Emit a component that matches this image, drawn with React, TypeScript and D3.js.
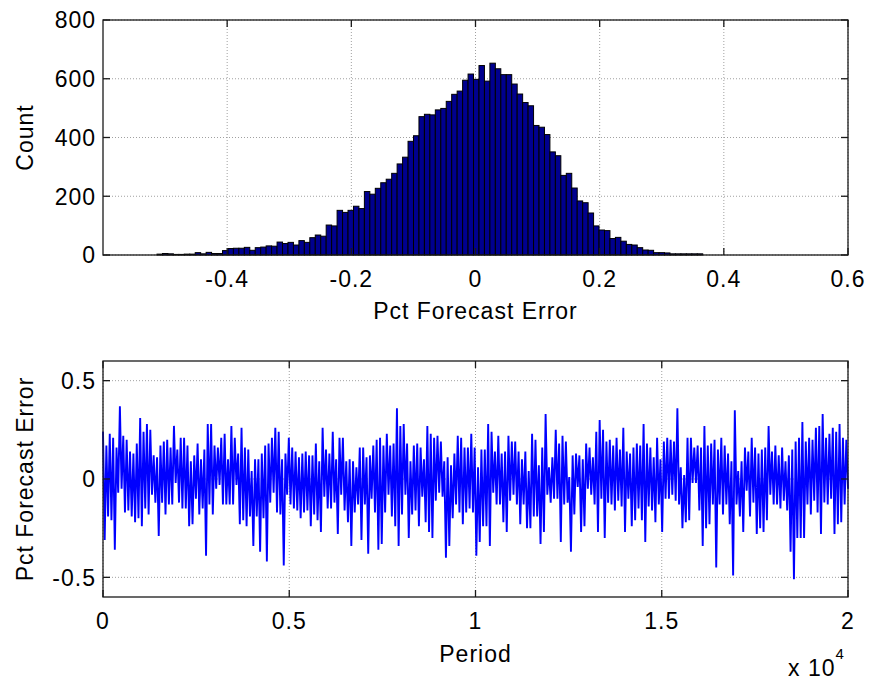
import { useEffect, useRef } from "react";
import * as d3 from "d3";

const W = 871;
const H = 682;

// top panel: histogram of pct forecast error, 100 equal bins from min to max
const histMin = -0.513;
const histMax = 0.366;
const histCounts = [
  3, 5, 4, 2, 2, 3, 3, 8, 4, 9,
  5, 5, 15, 22, 23, 23, 26, 16, 25, 27,
  31, 30, 44, 39, 43, 34, 49, 43, 59, 68,
  64, 102, 99, 152, 145, 152, 166, 158, 216, 207,
  227, 246, 258, 278, 310, 333, 387, 406, 471, 479,
  477, 494, 499, 523, 547, 558, 595, 616, 598, 645,
  592, 653, 634, 614, 614, 582, 548, 519, 508, 441,
  435, 410, 351, 338, 271, 278, 228, 184, 178, 143,
  99, 85, 83, 56, 60, 47, 36, 34, 25, 17,
  16, 8, 8, 7, 4, 4, 4, 4, 4, 4,
];
const topXTicks = [-0.4, -0.2, 0, 0.2, 0.4, 0.6];
const topYTicks = [0, 200, 400, 600, 800];

// bottom panel: pct forecast error by period, read as high / low swings
const errHigh = [
  0.24, 0.17, 0.23, 0.21, 0.16, 0.37, 0.22, 0.20, 0.14, 0.13,
  0.18, 0.31, 0.24, 0.28, 0.25, 0.12, 0.11, 0.17, 0.19, 0.20,
  0.16, 0.27, 0.15, 0.21, 0.21, 0.17, 0.09, 0.12, 0.18, 0.10,
  0.15, 0.28, 0.28, 0.17, 0.16, 0.21, 0.23, 0.10, 0.27, 0.21,
  0.13, 0.26, 0.16, 0.15, 0.04, 0.10, 0.10, 0.13, 0.17, 0.18,
  0.21, 0.26, 0.24, 0.10, 0.13,
  0.21, 0.16, 0.14, 0.11, 0.13, 0.14, 0.12, 0.12, 0.18, 0.09,
  0.26, 0.15, 0.13, 0.24, 0.10, 0.21, 0.21, 0.09, 0.10, 0.09,
  0.06, 0.16, 0.16, 0.11, 0.12, 0.17, 0.20, 0.21, 0.17, 0.23,
  0.17, 0.18, 0.36, 0.27, 0.28, 0.18, 0.09, 0.17, 0.18, 0.16,
  0.10, 0.27, 0.23, 0.21, 0.22, 0.19, 0.09, 0.11, 0.07, 0.13,
  0.22, 0.21, 0.16, 0.16, 0.23,
  0.16, 0.06, 0.15, 0.15, 0.28, 0.24, 0.14, 0.22, 0.13, 0.14,
  0.22, 0.19, 0.19, 0.14, 0.10, 0.14, 0.04, 0.23, 0.20, 0.07,
  0.16, 0.33, 0.06, 0.11, 0.25, 0.18, 0.22, 0.19, 0.01, 0.12,
  0.13, 0.12, 0.10, 0.18, 0.16, 0.11, 0.24, 0.30, 0.25, 0.19,
  0.20, 0.17, 0.21, 0.15, 0.26, 0.14, 0.13, 0.16, 0.18, 0.17,
  0.28, 0.18, 0.16, 0.11, 0.21,
  0.10, 0.19, 0.21, 0.20, 0.19, 0.36, 0.06, 0.02, 0.21, 0.21,
  0.16, 0.17, 0.16, 0.27, 0.17, 0.18, 0.20, 0.15, 0.21, 0.17,
  0.13, 0.09, 0.35, 0.04, 0.09, 0.16, 0.14, 0.21, 0.16, 0.13,
  0.15, 0.16, 0.27, 0.14, 0.17, 0.12, 0.16, 0.09, 0.12, 0.15,
  0.19, 0.21, 0.29, 0.19, 0.21, 0.20, 0.26, 0.27, 0.33, 0.21,
  0.23, 0.26, 0.24, 0.28, 0.21, 0.20,
];
const errLow = [
  -0.31, -0.19, -0.21, -0.36, -0.07, -0.05, -0.17, -0.16, -0.19, -0.22,
  -0.20, -0.24, -0.15, -0.18, -0.08, -0.12, -0.29, -0.12, -0.18, -0.13,
  -0.13, -0.02, -0.12, -0.15, -0.15, -0.24, -0.23, -0.10, -0.18, -0.15,
  -0.39, -0.13, -0.18, -0.05, -0.03, -0.13, -0.13, -0.13, -0.13, -0.03,
  -0.23, -0.21, -0.24, -0.19, -0.34, -0.19, -0.37, -0.20, -0.42, -0.12,
  -0.07, -0.17, -0.18, -0.44, -0.08,
  -0.13, -0.15, -0.16, -0.20, -0.17, -0.16, -0.24, -0.18, -0.21, -0.27,
  -0.09, -0.15, -0.15, -0.12, -0.28, -0.08, -0.16, -0.22, -0.34, -0.17,
  -0.13, -0.31, -0.13, -0.38, -0.10, -0.17, -0.36, -0.33, -0.17, -0.08,
  -0.19, -0.24, -0.34, -0.18, -0.08, -0.30, -0.18, -0.16, -0.24, -0.09,
  -0.22, -0.27, -0.30, -0.11, -0.07, -0.09, -0.40, -0.34, -0.20, -0.13,
  -0.17, -0.23, -0.17, -0.15, -0.17,
  -0.39, -0.32, -0.24, -0.24, -0.34, -0.07, -0.13, -0.13, -0.22, -0.27,
  -0.11, -0.08, -0.13, -0.23, -0.13, -0.25, -0.25, -0.19, -0.19, -0.33,
  -0.27, -0.08, -0.12, -0.10, -0.10, -0.32, -0.13, -0.12, -0.37, -0.18,
  -0.04, -0.27, -0.24, -0.05, -0.08, -0.13, -0.27, -0.10, -0.30, -0.12,
  -0.13, -0.16, -0.11, -0.14, -0.27, -0.10, -0.24, -0.21, -0.15, -0.21,
  -0.32, -0.14, -0.16, -0.22, -0.13,
  -0.27, -0.10, -0.10, -0.08, -0.11, -0.13, -0.25, -0.22, -0.21, -0.02,
  -0.02, -0.16, -0.34, -0.25, -0.23, -0.13, -0.45, -0.13, -0.18, -0.13,
  -0.23, -0.49, -0.13, -0.19, -0.27, -0.06, -0.19, -0.12, -0.28, -0.25,
  -0.27, -0.21, -0.08, -0.13, -0.13, -0.15, -0.11, -0.16, -0.37, -0.51,
  -0.30, -0.30, -0.30, -0.13, -0.18, -0.11, -0.17, -0.28, -0.12, -0.13,
  -0.10, -0.28, -0.23, -0.22, -0.13, -0.05,
];
const nPeriods = 20000;
const bottomXTicks = [0, 5000, 10000, 15000, 20000];
const bottomXLabels = ["0", "0.5", "1", "1.5", "2"];
const bottomYTicks = [-0.5, 0, 0.5];

const FONT = "'Liberation Sans', Arial, Helvetica, sans-serif";

function drawGrid(g, x, y, xTicks, yTicks) {
  const [x0, x1] = x.range();
  const [y0, y1] = y.range(); // y0 bottom, y1 top

  g.selectAll(".gx")
    .data(xTicks)
    .enter()
    .append("line")
    .attr("x1", (d) => x(d))
    .attr("x2", (d) => x(d))
    .attr("y1", y0)
    .attr("y2", y1)
    .attr("stroke", "#a0a0a0")
    .attr("stroke-dasharray", "1,2");
  g.selectAll(".gy")
    .data(yTicks)
    .enter()
    .append("line")
    .attr("x1", x0)
    .attr("x2", x1)
    .attr("y1", (d) => y(d))
    .attr("y2", (d) => y(d))
    .attr("stroke", "#a0a0a0")
    .attr("stroke-dasharray", "1,2");
}

function drawAxes(g, x, y, xTicks, yTicks, xFmt, yFmt) {
  const [x0, x1] = x.range();
  const [y0, y1] = y.range();
  const tickLen = 7;
  const stroke = "#1a1a1a";

  g.append("rect")
    .attr("x", x0)
    .attr("y", y1)
    .attr("width", x1 - x0)
    .attr("height", y0 - y1)
    .attr("fill", "none")
    .attr("stroke", stroke)
    .attr("stroke-width", 1.3);

  // inward ticks on both sides (box on)
  xTicks.forEach((t) => {
    g.append("line").attr("x1", x(t)).attr("x2", x(t)).attr("y1", y0).attr("y2", y0 - tickLen)
      .attr("stroke", stroke).attr("stroke-width", 1.3);
    g.append("line").attr("x1", x(t)).attr("x2", x(t)).attr("y1", y1).attr("y2", y1 + tickLen)
      .attr("stroke", stroke).attr("stroke-width", 1.3);
  });
  yTicks.forEach((t) => {
    g.append("line").attr("x1", x0).attr("x2", x0 + tickLen).attr("y1", y(t)).attr("y2", y(t))
      .attr("stroke", stroke).attr("stroke-width", 1.3);
    g.append("line").attr("x1", x1).attr("x2", x1 - tickLen).attr("y1", y(t)).attr("y2", y(t))
      .attr("stroke", stroke).attr("stroke-width", 1.3);
  });

  g.selectAll(".xl")
    .data(xTicks)
    .enter()
    .append("text")
    .attr("x", (d) => x(d))
    .attr("y", y0 + 32)
    .attr("text-anchor", "middle")
    .text((d, i) => xFmt(d, i));

  g.selectAll(".yl")
    .data(yTicks)
    .enter()
    .append("text")
    .attr("x", x0 - 7)
    .attr("y", (d) => y(d))
    .attr("dy", "0.36em")
    .attr("text-anchor", "end")
    .text((d) => yFmt(d));
}

export default function App() {
  const svgRef = useRef(null);

  useEffect(() => {
    document.body.style.margin = "0";
    const svg = d3.select(svgRef.current);
    svg.selectAll("*").remove();

    svg.append("rect").attr("width", W).attr("height", H).attr("fill", "#fff");

    const root = svg
      .append("g")
      .attr("font-family", FONT)
      .attr("font-size", 23)
      .attr("letter-spacing", "1px")
      .attr("fill", "#000");

    // ---- top: histogram ----
    const xTop = d3.scaleLinear().domain([-0.6, 0.6]).range([103, 848]);
    const yTop = d3.scaleLinear().domain([0, 800]).range([255, 20]);
    const top = root.append("g");
    drawGrid(top, xTop, yTop, topXTicks, topYTicks);

    const binW = (histMax - histMin) / histCounts.length;
    top.append("g")
      .selectAll("rect")
      .data(histCounts)
      .enter()
      .append("rect")
      .attr("x", (d, i) => xTop(histMin + i * binW))
      .attr("width", (d, i) => xTop(histMin + (i + 1) * binW) - xTop(histMin + i * binW))
      .attr("y", (d) => yTop(d))
      .attr("height", (d) => yTop(0) - yTop(d))
      .attr("fill", "#00008f")
      .attr("stroke", "#000")
      .attr("stroke-width", 1);

    drawAxes(top, xTop, yTop, topXTicks, topYTicks, (d) => String(d), (d) => String(d));

    top.append("text")
      .attr("x", xTop(0))
      .attr("y", 319)
      .attr("text-anchor", "middle")
      .text("Pct Forecast Error");
    top.append("text")
      .attr("transform", `translate(33,${(yTop(0) + yTop(800)) / 2}) rotate(-90)`)
      .attr("text-anchor", "middle")
      .text("Count");

    // ---- bottom: error by period ----
    const xBot = d3.scaleLinear().domain([0, nPeriods]).range([103, 848]);
    const yBot = d3.scaleLinear().domain([-0.6, 0.6]).range([597, 361]);
    const bot = root.append("g");
    drawGrid(bot, xBot, yBot, bottomXTicks, bottomYTicks);

    const series = [];
    errHigh.forEach((h, i) => {
      series.push(h);
      series.push(errLow[i]);
    });
    const n = series.length;
    const line = d3
      .line()
      .x((d, i) => xBot((i * nPeriods) / (n - 1)))
      .y((d) => yBot(d));

    bot.append("path")
      .datum(series)
      .attr("d", line)
      .attr("fill", "none")
      .attr("stroke", "#0000ff")
      .attr("stroke-width", 1.9)
      .attr("stroke-linejoin", "bevel");

    drawAxes(bot, xBot, yBot, bottomXTicks, bottomYTicks, (d, i) => bottomXLabels[i], (d) => String(d));

    bot.append("text")
      .attr("x", xBot(10000))
      .attr("y", 662)
      .attr("text-anchor", "middle")
      .text("Period");

    const exp = bot.append("text").attr("x", 788).attr("y", 676);
    exp.append("tspan").text("x 10");
    exp.append("tspan").attr("font-size", 15).attr("dy", -17).text("4");

    bot.append("text")
      .attr("transform", `translate(33,${yBot(0)}) rotate(-90)`)
      .attr("text-anchor", "middle")
      .text("Pct Forecast Error");
  }, []);

  return <svg ref={svgRef} width={W} height={H} style={{ display: "block" }} />;
}
